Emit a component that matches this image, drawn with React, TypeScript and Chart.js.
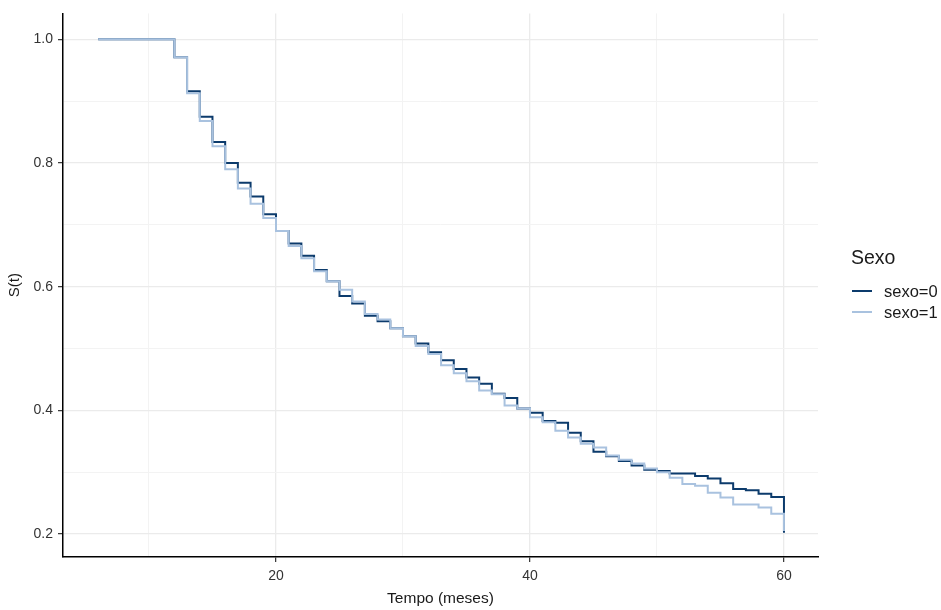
import React, { useEffect, useRef } from "react";
import { Chart, registerables } from "chart.js";

Chart.register(...registerables);

// Kaplan–Meier survival estimates by month
const months = [6, 12, 13, 14, 15, 16, 17, 18, 19, 20, 21, 22, 23, 24, 25, 26, 27, 28, 29, 30,
  31, 32, 33, 34, 35, 36, 37, 38, 39, 40, 41, 42, 43, 44, 45, 46, 47, 48, 49, 50,
  51, 52, 53, 54, 55, 56, 57, 58, 59, 60];

const survSexo0 = [1.0, 0.971, 0.916, 0.875, 0.834, 0.8, 0.768, 0.746, 0.717, 0.69, 0.67, 0.65, 0.627, 0.609, 0.585, 0.573, 0.553, 0.544, 0.533, 0.52,
  0.508, 0.494, 0.481, 0.467, 0.453, 0.443, 0.427, 0.42, 0.403, 0.396, 0.383, 0.38, 0.364, 0.35, 0.333, 0.326, 0.318, 0.311, 0.304, 0.302,
  0.298, 0.298, 0.294, 0.29, 0.282, 0.273, 0.271, 0.265, 0.26, 0.202];

const survSexo1 = [1.0, 0.971, 0.913, 0.868, 0.827, 0.79, 0.759, 0.734, 0.711, 0.69, 0.666, 0.646, 0.625, 0.609, 0.595, 0.576, 0.556, 0.547, 0.533, 0.52,
  0.504, 0.491, 0.473, 0.46, 0.447, 0.432, 0.426, 0.408, 0.403, 0.389, 0.381, 0.367, 0.356, 0.346, 0.34, 0.327, 0.32, 0.314, 0.306, 0.3,
  0.291, 0.281, 0.278, 0.267, 0.259, 0.248, 0.248, 0.243, 0.233, 0.205];

const seriesNames = ["sexo=0", "sexo=1"];
const legendTitle = "Sexo";
const xTitle = "Tempo (meses)";
const yTitle = "S(t)";

const xTickValues = [10, 20, 30, 40, 50, 60];
const xTickLabels = [20, 40, 60];
const yTickValues = [0.2, 0.3, 0.4, 0.5, 0.6, 0.7, 0.8, 0.9, 1.0];
const yTickLabels = [0.2, 0.4, 0.6, 0.8, 1.0];

const DARK = "#0c3b6c";
const LIGHT = "#a9c2df";
const FONT = "'Liberation Sans', Arial, sans-serif";

const isMajor = (v: number, list: number[]) => list.some((l) => Math.abs(l - v) < 1e-6);

const legendPlugin = {
  id: "sideLegend",
  afterDraw(chart: any) {
    const ctx = chart.ctx;
    ctx.save();
    ctx.fillStyle = "#1a1a1a";
    ctx.textBaseline = "middle";
    ctx.textAlign = "left";
    ctx.font = `19.5px ${FONT}`;
    ctx.fillText(legendTitle, 851, 259);
    const colors = [DARK, LIGHT];
    seriesNames.forEach((name, i) => {
      const y = 291 + i * 21;
      ctx.strokeStyle = colors[i];
      ctx.lineWidth = 2;
      ctx.beginPath();
      ctx.moveTo(852, y);
      ctx.lineTo(872, y);
      ctx.stroke();
      ctx.fillStyle = "#1a1a1a";
      ctx.font = `16.5px ${FONT}`;
      ctx.fillText(name, 884, y + 1);
    });
    ctx.restore();
  },
};

export default function App() {
  const canvasRef = useRef<HTMLCanvasElement | null>(null);

  useEffect(() => {
    if (!canvasRef.current) return;
    const chart = new Chart(canvasRef.current, {
      type: "line",
      data: {
        datasets: [
          {
            label: seriesNames[0],
            data: months.map((m, i) => ({ x: m, y: survSexo0[i] })),
            borderColor: DARK,
            borderWidth: 2,
            pointRadius: 0,
            stepped: true,
            fill: false,
            order: 1,
          },
          {
            label: seriesNames[1],
            data: months.map((m, i) => ({ x: m, y: survSexo1[i] })),
            borderColor: LIGHT,
            borderWidth: 2,
            pointRadius: 0,
            stepped: true,
            fill: false,
            order: 0,
          },
        ],
      },
      plugins: [legendPlugin],
      options: {
        animation: false,
        responsive: false,
        maintainAspectRatio: false,
        layout: { padding: { left: 0, right: 123, top: 12, bottom: 0 } },
        plugins: {
          legend: { display: false },
          tooltip: { enabled: false },
        },
        scales: {
          x: {
            type: "linear",
            min: 3.23,
            max: 62.68,
            afterFit: (scale: any) => {
              scale.height = 53;
            },
            afterBuildTicks: (scale: any) => {
              scale.ticks = xTickValues.map((v) => ({ value: v }));
            },
            border: { color: "#000", width: 1.5 },
            grid: {
              color: (c: any) => (isMajor(c.tick?.value, xTickLabels) ? "#ebebeb" : "#f3f3f3"),
              lineWidth: (c: any) => (isMajor(c.tick?.value, xTickLabels) ? 1.3 : 1),
              tickColor: (c: any) => (isMajor(c.tick?.value, xTickLabels) ? "#333" : "rgba(0,0,0,0)"),
              tickLength: 5,
              tickWidth: 1.2,
              drawOnChartArea: true,
            },
            ticks: {
              autoSkip: false,
              maxRotation: 0,
              padding: 6,
              color: "#333",
              font: { family: FONT, size: 14 },
              callback: (v: any) => (isMajor(Number(v), xTickLabels) ? String(v) : ""),
            },
            title: {
              display: true,
              text: xTitle,
              color: "#1a1a1a",
              font: { family: FONT, size: 15.5 },
              padding: { top: 0, bottom: 2 },
            },
          },
          y: {
            type: "linear",
            min: 0.1629,
            max: 1.042,
            afterFit: (scale: any) => {
              scale.width = 63;
            },
            afterBuildTicks: (scale: any) => {
              scale.ticks = yTickValues.map((v) => ({ value: v }));
            },
            border: { color: "#000", width: 1.5 },
            grid: {
              color: (c: any) => (isMajor(c.tick?.value, yTickLabels) ? "#ebebeb" : "#f3f3f3"),
              lineWidth: (c: any) => (isMajor(c.tick?.value, yTickLabels) ? 1.3 : 1),
              tickColor: (c: any) => (isMajor(c.tick?.value, yTickLabels) ? "#333" : "rgba(0,0,0,0)"),
              tickLength: 5,
              tickWidth: 1.2,
            },
            ticks: {
              autoSkip: false,
              padding: 5,
              color: "#333",
              font: { family: FONT, size: 14 },
              callback: (v: any) => (isMajor(Number(v), yTickLabels) ? Number(v).toFixed(1) : ""),
            },
            title: {
              display: true,
              text: yTitle,
              color: "#1a1a1a",
              font: { family: FONT, size: 15 },
              padding: { top: 6, bottom: 0 },
            },
          },
        },
      },
    });
    return () => chart.destroy();
  }, []);

  return (
    <div style={{ position: "fixed", left: 0, top: 0, width: 941, height: 610, background: "#fff" }}>
      <canvas ref={canvasRef} width={941} height={610} style={{ width: 941, height: 610, display: "block" }} />
    </div>
  );
}
